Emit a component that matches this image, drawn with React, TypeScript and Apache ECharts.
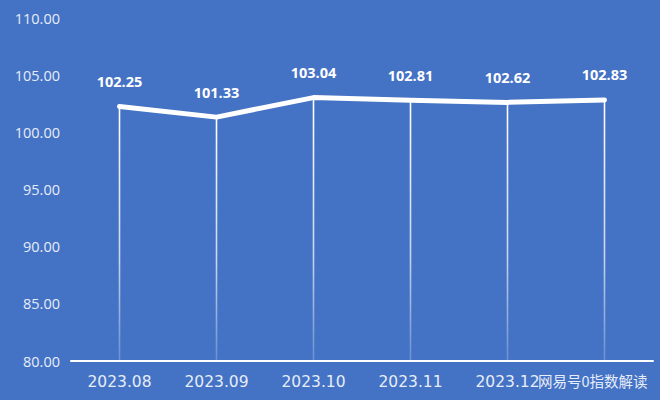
import { useEffect, useRef } from "react";
import * as echarts from "echarts";

const categories = ["2023.08", "2023.09", "2023.10", "2023.11", "2023.12", "2024.01"];
const values = [102.25, 101.33, 103.04, 102.81, 102.62, 102.83];
const yMin = 80;
const yMax = 110;
const yStep = 5;
const watermark = "网易号0指数解读";

const BG = "#4472C4";

export default function App() {
  const ref = useRef<HTMLDivElement>(null);
  useEffect(() => {
    if (!ref.current) return;
    const chart = echarts.init(ref.current, undefined, { renderer: "svg" });
    chart.setOption({
      animation: false,
      backgroundColor: BG,
      grid: { left: 71, right: 7, top: 18, bottom: 39, containLabel: false },
      xAxis: {
        type: "category",
        data: categories,
        boundaryGap: true,
        axisLine: { show: true, lineStyle: { color: "#FFFFFF", width: 2 } },
        axisTick: { show: false },
        axisLabel: {
          color: "#E6EDF8",
          fontFamily: "DejaVu Sans",
          fontSize: 15.5,
          margin: 13,
          // the last category label is hidden under the watermark in the reference
          formatter: (v: string, i: number) => (i === categories.length - 1 ? "" : v),
        },
        splitLine: { show: false },
      },
      yAxis: {
        type: "value",
        min: yMin,
        max: yMax,
        interval: yStep,
        axisLine: { show: false },
        axisTick: { show: false },
        splitLine: { show: false },
        axisLabel: {
          color: "#E6EDF8",
          fontFamily: "Open Sans",
          fontSize: 14.5,
          margin: 11,
          formatter: (v: number) => v.toFixed(2),
        },
      },
      series: [
        {
          type: "custom",
          data: values.map((v, i) => [i, v]),
          encode: { x: 0, y: 1 },
          z: 1,
          renderItem: (_params: any, api: any) => {
            const top = api.coord([api.value(0), api.value(1)]);
            const bot = api.coord([api.value(0), yMin]);
            return {
              type: "rect",
              shape: { x: top[0] - 0.8, y: top[1], width: 1.6, height: bot[1] - top[1] },
              style: {
                fill: new echarts.graphic.LinearGradient(0, 0, 0, 1, [
                  { offset: 0, color: "rgba(255,255,255,1)" },
                  { offset: 0.6, color: "rgba(255,255,255,0.7)" },
                  { offset: 1, color: "rgba(255,255,255,0.2)" },
                ]),
              },
            };
          },
        },
        {
          type: "line",
          data: values,
          z: 3,
          symbol: "circle",
          symbolSize: 1,
          itemStyle: { color: "#FFFFFF" },
          lineStyle: { color: "#FFFFFF", width: 5, cap: "round", join: "round" },
          label: {
            show: true,
            position: "top",
            distance: 17,
            color: "#FFFFFF",
            fontFamily: "Open Sans",
            fontWeight: "bold",
            fontSize: 14.5,
            formatter: (p: any) => Number(p.value).toFixed(2),
          },
        },
      ],
      graphic: [
        {
          type: "text",
          left: 538,
          top: 373,
          z: 100,
          style: {
            text: watermark,
            fill: "#E6EDF8",
            font: "14.5px 'Noto Sans CJK SC'",
          },
        },
      ],
    });
    return () => chart.dispose();
  }, []);
  return (
    <div
      ref={ref}
      style={{ position: "fixed", left: 0, top: 0, width: 660, height: 400 }}
    />
  );
}
